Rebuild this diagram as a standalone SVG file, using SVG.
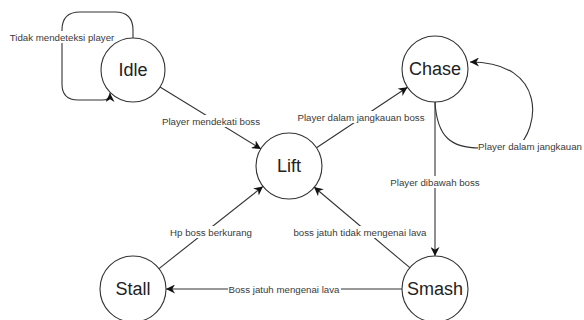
<svg xmlns="http://www.w3.org/2000/svg" width="584" height="320" viewBox="0 0 584 320">
<style>
.node circle{fill:#fff;stroke:#333;stroke-width:1.1}
.node text{font-family:"Liberation Sans",Arial,sans-serif;font-size:18px;fill:#222;text-anchor:middle;dominant-baseline:central}
.edge{fill:none;stroke:#333;stroke-width:1.1;marker-end:url(#arr)}
.lbl{font-family:"Liberation Sans",Arial,sans-serif;font-size:9.7px;fill:#3a3a3a;text-anchor:middle;dominant-baseline:central}
.bg{fill:#fff}
</style>
<defs>
<marker id="arr" viewBox="0 0 10 10" refX="10" refY="5" markerWidth="9" markerHeight="9" markerUnits="userSpaceOnUse" orient="auto">
<path d="M0,0 L10,5 L0,10 L3,5 Z" fill="#111"/>
</marker>
</defs>
<g id="connectors">
<path class="edge" d="M133 38 L133 30 Q133 12 115 12 L80 12 Q62 12 62 30 L62 84 Q62 100 78 100 L102 100 Q110 100 110 95 L110 93"/>
<path class="edge" d="M435 102 C437 138 452 148 480 148 L516 148 C540 130 548 62 470 62"/>
<path class="edge" d="M160 87 L261 149"/>
<path class="edge" d="M316.5 147.7 L407.5 87.2"/>
<path class="edge" d="M435 102 L435 256"/>
<path class="edge" d="M409.8 267.7 L314 187"/>
<path class="edge" d="M159 268.6 L263 186.4"/>
<path class="edge" d="M402 289 L166 289"/>
</g>
<g id="labels">
<rect class="bg" x="10" y="31" width="104" height="12"/>
<text class="lbl" x="62" y="37">Tidak mendeteksi player</text>
<rect class="bg" x="478" y="140" width="106" height="12"/>
<text class="lbl" x="530" y="146">Player dalam jangkauan</text>
<rect class="bg" x="161" y="115" width="100" height="12"/>
<text class="lbl" x="211" y="121">Player mendekati boss</text>
<rect class="bg" x="297" y="111" width="128" height="12"/>
<text class="lbl" x="361" y="117">Player dalam jangkauan boss</text>
<rect class="bg" x="389" y="176" width="92" height="12"/>
<text class="lbl" x="435" y="182">Player dibawah boss</text>
<rect class="bg" x="292" y="226" width="137" height="12"/>
<text class="lbl" x="360" y="232">boss jatuh tidak mengenai lava</text>
<rect class="bg" x="169" y="226" width="85" height="12"/>
<text class="lbl" x="211" y="232">Hp boss berkurang</text>
<rect class="bg" x="228" y="283" width="113" height="12"/>
<text class="lbl" x="284" y="289">Boss jatuh mengenai lava</text>
</g>
<g id="idle" class="node"><circle cx="133" cy="70" r="32"/><text x="133" y="70">Idle</text></g>
<g id="chase" class="node"><circle cx="435" cy="69" r="33"/><text x="435" y="69">Chase</text></g>
<g id="lift" class="node"><circle cx="289" cy="166" r="33"/><text x="289" y="166">Lift</text></g>
<g id="stall" class="node"><circle cx="133" cy="289" r="33"/><text x="133" y="289">Stall</text></g>
<g id="smash" class="node"><circle cx="435" cy="289" r="33"/><text x="435" y="289">Smash</text></g>
</svg>
